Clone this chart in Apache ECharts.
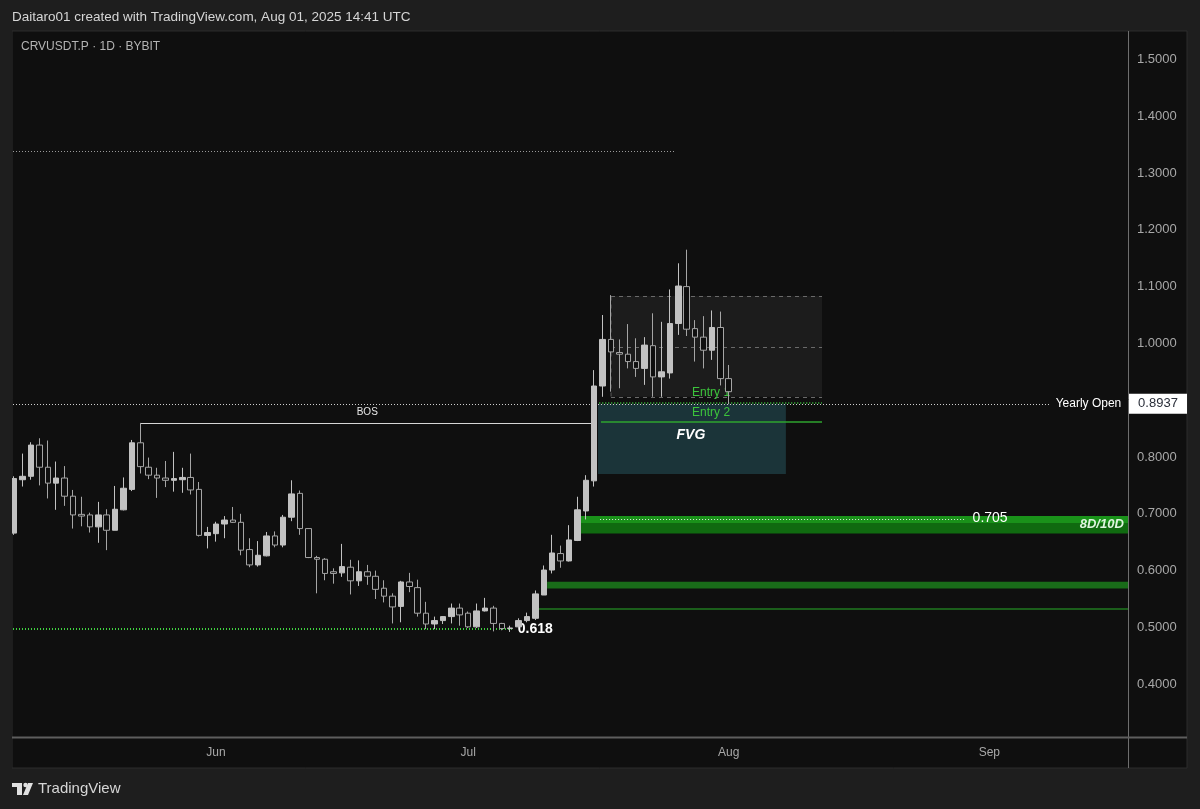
<!DOCTYPE html>
<html><head><meta charset="utf-8">
<script src="https://cdn.jsdelivr.net/npm/echarts@6/dist/echarts.min.js"></script>
<style>html,body{margin:0;padding:0;background:#1e1e1e;}#c{width:1200px;height:809px;}</style>
</head><body><div id="c"></div>
<script>
// ---------- DATA ----------
const firstDay = '2025-05-08';
const dayCount = 133; // May 8 .. Sep 17 (future days empty)
const opens  = [0.666,0.760,0.766,0.821,0.782,0.754,0.763,0.731,0.699,0.698,0.677,0.698,0.671,0.707,0.743,0.825,0.782,0.768,0.763,0.759,0.760,0.764,0.743,0.662,0.665,0.682,0.689,0.685,0.637,0.610,0.626,0.661,0.645,0.694,0.736,0.674,0.623,0.620,0.598,0.596,0.606,0.582,0.598,0.590,0.569,0.555,0.537,0.580,0.570,0.525,0.506,0.512,0.519,0.534,0.525,0.501,0.529,0.534,0.507,0.498,0.501,0.512,0.516,0.557,0.601,0.630,0.617,0.653,0.705,0.758,0.925,1.007,0.984,0.981,0.968,0.956,0.996,0.941,0.948,1.035,1.100,1.026,1.011,0.988,1.028,0.938];
const closes = [0.762,0.766,0.821,0.782,0.754,0.763,0.731,0.698,0.696,0.677,0.698,0.671,0.708,0.745,0.825,0.783,0.768,0.763,0.759,0.762,0.764,0.742,0.662,0.667,0.682,0.689,0.685,0.636,0.610,0.627,0.661,0.645,0.694,0.735,0.674,0.623,0.620,0.595,0.595,0.607,0.582,0.598,0.590,0.567,0.555,0.536,0.580,0.572,0.525,0.506,0.512,0.519,0.534,0.522,0.501,0.529,0.534,0.507,0.498,0.499,0.512,0.519,0.559,0.601,0.631,0.617,0.654,0.707,0.759,0.925,1.007,0.985,0.981,0.968,0.956,0.997,0.941,0.950,1.035,1.101,1.025,1.011,0.988,1.028,0.938,0.915];
const lows   = [0.663,0.748,0.760,0.750,0.727,0.707,0.714,0.674,0.678,0.667,0.649,0.636,0.671,0.706,0.740,0.771,0.761,0.728,0.747,0.739,0.737,0.734,0.660,0.639,0.651,0.657,0.684,0.627,0.606,0.607,0.625,0.641,0.641,0.687,0.663,0.622,0.560,0.583,0.577,0.589,0.558,0.573,0.575,0.550,0.544,0.507,0.509,0.562,0.519,0.497,0.497,0.506,0.507,0.503,0.499,0.499,0.528,0.493,0.495,0.492,0.499,0.509,0.513,0.557,0.595,0.605,0.616,0.652,0.690,0.748,0.906,0.915,0.921,0.956,0.941,0.927,0.906,0.906,0.938,1.015,1.013,0.968,0.956,0.971,0.926,0.893];
const highs  = [0.766,0.806,0.826,0.833,0.829,0.792,0.784,0.742,0.730,0.702,0.721,0.708,0.749,0.764,0.830,0.860,0.799,0.781,0.793,0.809,0.781,0.806,0.756,0.677,0.686,0.696,0.712,0.700,0.657,0.652,0.668,0.669,0.698,0.759,0.741,0.674,0.626,0.622,0.604,0.647,0.619,0.618,0.610,0.600,0.583,0.560,0.582,0.596,0.584,0.545,0.519,0.520,0.542,0.542,0.528,0.542,0.552,0.538,0.508,0.503,0.516,0.526,0.565,0.609,0.663,0.644,0.680,0.730,0.768,0.953,1.050,1.085,1.007,1.034,1.009,1.011,1.053,1.038,1.095,1.141,1.165,1.041,1.048,1.058,1.056,0.962];
const monthNames = ['Jan','Feb','Mar','Apr','May','Jun','Jul','Aug','Sep','Oct','Nov','Dec'];
const priceTicks = [0.4,0.5,0.6,0.7,0.8,0.9,1.0,1.1,1.2,1.3,1.4,1.5];

// levels and zones (x in day index, fractional allowed; y in price)
const yearlyOpen = 0.8937;
const upperDotted = {from:-0.5, to:78.7, price:1.3385};
const bosLine = {from:15, to:68.7, price:0.8597, labelAt:42};
const rangeBox = {from:71, to:96.1, top:1.0833, mid:0.994, bottom:0.906};
const entry1 = {from:69.6, to:96.1, price:0.8955, labelAt:82.9, labelPrice:0.913};
const entry2 = {from:69.8, to:96.1, price:0.861, labelAt:82.9, labelPrice:0.878};
const fvgZone = {from:69.45, to:91.8, top:0.8937, bottom:0.770, labelAt:80.5, labelPrice:0.838};
const fibZone = {from:67.3, top:0.696, mid:0.6836, bottom:0.6655, dotFrom:69.7, dotTo:113.1, dotPrice:0.6907, labelAt:116.1, labelPrice:0.692, label:'0.705'};
const lowerZone = {from:63.4, top:0.5803, bottom:0.5687};
const thinLevel = {from:62.3, price:0.532};
const fib618 = {from:-0.5, to:59.2, price:0.4965, labelAt:59.9, label:'0.618'};

// ---------- BUILD ----------
const dates = [];
{
  const d0 = new Date(firstDay + 'T00:00:00Z');
  for (let i = 0; i < dayCount; i++) {
    const d = new Date(d0.getTime() + i * 86400000);
    dates.push(d.toISOString().slice(0, 10));
  }
}
const candles = opens.map((o, i) => [o, closes[i], lows[i], highs[i]]);
const xMax = dayCount - 0.5;

const shapes = [];
function hline(from, to, price, stroke, width, dash) { shapes.push({k:'line', x1:from, x2:to, y1:price, y2:price, stroke, width, dash}); }
function vline(x, p1, p2, stroke, width, dash) { shapes.push({k:'line', x1:x, x2:x, y1:p1, y2:p2, stroke, width, dash}); }
function rect(x1, x2, top, bottom, fill) { shapes.push({k:'rect', x1, x2, y1:top, y2:bottom, fill}); }
function text(x, price, str, style) { shapes.push({k:'text', x1:x, y1:price, str, style}); }

// zones
rect(fvgZone.from, fvgZone.to, fvgZone.top, fvgZone.bottom, 'rgba(38,84,92,0.55)');
rect(rangeBox.from, rangeBox.to, rangeBox.top, rangeBox.bottom, 'rgba(255,255,255,0.055)');
rect(fibZone.from, xMax, fibZone.top, fibZone.bottom, '#106a10');
rect(fibZone.from, xMax, fibZone.top, fibZone.mid, '#1a921a');
rect(lowerZone.from, xMax, lowerZone.top, lowerZone.bottom, '#196c19');
hline(thinLevel.from, xMax, thinLevel.price, '#1b5e1b', 2, null);
// range box dashes
const dash = [4, 4];
hline(rangeBox.from, rangeBox.to, rangeBox.top, '#6a6a6a', 1, dash);
hline(rangeBox.from, rangeBox.to, rangeBox.mid, '#6a6a6a', 1, dash);
hline(rangeBox.from, rangeBox.to, rangeBox.bottom, '#6a6a6a', 1, dash);
vline(rangeBox.from, rangeBox.top, rangeBox.bottom, '#5a5a5a', 1, dash);
// levels
hline(upperDotted.from, upperDotted.to, upperDotted.price, '#9a9a9a', 1, [1, 2]);
hline(-0.5, 123.2, yearlyOpen, '#d0d0d0', 1, [1, 2]);
hline(entry1.from, entry1.to, entry1.price, '#3fd23f', 1.5, [1, 2]);
hline(entry2.from, entry2.to, entry2.price, '#2fa52f', 1.5, null);
hline(bosLine.from, bosLine.to, bosLine.price, '#d6d6d6', 1, null);
hline(fibZone.dotFrom, fibZone.dotTo, fibZone.dotPrice, '#e8e8e8', 1, [1, 2]);
hline(fib618.from, fib618.to, fib618.price, '#3fd23f', 2, [1, 2]);
// texts
const baseFont = '"Liberation Sans", Arial, sans-serif';
text(bosLine.labelAt, 0.879, 'BOS', {fill:'#e6e6e6', font:'10px ' + baseFont, align:'center', verticalAlign:'middle'});
text(entry1.labelAt, entry1.labelPrice, 'Entry 1', {fill:'#3cc43c', font:'12px ' + baseFont, align:'center', verticalAlign:'middle'});
text(entry2.labelAt, entry2.labelPrice, 'Entry 2', {fill:'#3cc43c', font:'12px ' + baseFont, align:'center', verticalAlign:'middle'});
text(fvgZone.labelAt, fvgZone.labelPrice, 'FVG', {fill:'#ffffff', font:'italic bold 14px ' + baseFont, align:'center', verticalAlign:'middle'});
text(fibZone.labelAt, fibZone.labelPrice, fibZone.label, {fill:'#ffffff', font:'14px ' + baseFont, align:'center', verticalAlign:'middle'});
text(132.0, 0.681, '8D/10D', {fill:'#dff5df', font:'italic bold 13px ' + baseFont, align:'right', verticalAlign:'middle'});
text(fib618.labelAt, fib618.price, fib618.label, {fill:'#ffffff', font:'bold 14px ' + baseFont, align:'left', verticalAlign:'middle'});
text(131.7, yearlyOpen, 'Yearly Open', {fill:'#ffffff', font:'12px ' + baseFont, align:'right', verticalAlign:'middle'});
shapes.push({k:'pricebox', x1:xMax, y1:yearlyOpen, str:yearlyOpen.toFixed(4)});

function renderShape(params, api) {
  const s = shapes[params.dataIndex];
  if (s.k === 'rect') {
    const a = api.coord([s.x1, s.y1]), b = api.coord([s.x2, s.y2]);
    return {type:'rect', shape:{x:a[0], y:a[1], width:b[0]-a[0], height:b[1]-a[1]}, style:{fill:s.fill}};
  }
  if (s.k === 'line') {
    const a = api.coord([s.x1, s.y1]), b = api.coord([s.x2, s.y2]);
    const off = (s.width % 2 === 1) ? 0.5 : 0;
    return {type:'line', shape:{x1:a[0], y1:Math.round(a[1]) + off, x2:b[0], y2:Math.round(b[1]) + off}, style:{stroke:s.stroke, lineWidth:s.width, lineDash:s.dash || null}};
  }
  if (s.k === 'text') {
    const a = api.coord([s.x1, s.y1]);
    return {type:'text', x:a[0], y:a[1], style:Object.assign({text:s.str}, s.style)};
  }
  if (s.k === 'pricebox') {
    const a = api.coord([s.x1, s.y1]);
    return {type:'group', children:[
      {type:'rect', shape:{x:a[0] + 1, y:a[1] - 10, width:58, height:20}, style:{fill:'#ffffff'}},
      {type:'text', x:a[0] + 30, y:a[1], style:{text:s.str, fill:'#2a2e39', font:'13px ' + baseFont, align:'center', verticalAlign:'middle'}}
    ]};
  }
  return null;
}

const chart = echarts.init(document.getElementById('c'), null, {renderer:'canvas'});
chart.setOption({
  backgroundColor:'#1e1e1e',
  animation:false,
  graphic:[
    {type:'rect', z:-10, shape:{x:12, y:31, width:1175, height:737}, style:{fill:'#0f0f0f', stroke:'#2c2c2c', lineWidth:1}},
    {type:'line', z:50, shape:{x1:1128.5, y1:31, x2:1128.5, y2:768}, style:{stroke:'#6e6e6e', lineWidth:1}},
    {type:'line', z:50, shape:{x1:12, y1:737.5, x2:1187, y2:737.5}, style:{stroke:'#5e5e5e', lineWidth:2}},
    {type:'rect', z:60, shape:{x:0, y:31, width:12, height:740}, style:{fill:'#1e1e1e'}},
    {type:'text', z:60, x:12, y:17, style:{text:'Daitaro01 created with TradingView.com, Aug 01, 2025 14:41 UTC', fill:'#d6d6d6', font:'13.5px "Liberation Sans", Arial, sans-serif', verticalAlign:'middle'}},
    {type:'text', z:60, x:21, y:47, style:{text:'CRVUSDT.P · 1D · BYBIT', fill:'#b4b4b4', font:'12px "Liberation Sans", Arial, sans-serif', verticalAlign:'middle'}},
    {type:'group', z:60, children:[
      {type:'rect', shape:{x:12, y:783, width:10, height:4}, style:{fill:'#e0e0e0'}},
      {type:'rect', shape:{x:17, y:783, width:5, height:12}, style:{fill:'#e0e0e0'}},
      {type:'circle', shape:{cx:25.5, cy:785, r:2.2}, style:{fill:'#e0e0e0'}},
      {type:'polygon', shape:{points:[[28,783],[33,783],[28,795],[23,795]]}, style:{fill:'#e0e0e0'}}
    ]},
    {type:'text', z:60, x:38, y:789, style:{text:'TradingView', fill:'#d6d6d6', font:'15px "Liberation Sans", Arial, sans-serif', verticalAlign:'middle'}}
  ],
  grid:{left:10, right:72, top:31, bottom:68, containLabel:false},
  xAxis:[
    {type:'category', data:dates, boundaryGap:true,
     axisLine:{show:false}, axisTick:{show:false}, splitLine:{show:false},
     axisLabel:{color:'#a8a8a8', fontSize:12, fontFamily:'"Liberation Sans", Arial, sans-serif', margin:6,
       interval:(i, v) => v.slice(8) === '01',
       formatter:(v) => monthNames[parseInt(v.slice(5, 7), 10) - 1]}},
    {type:'value', min:-0.5, max:xMax, show:false}
  ],
  yAxis:[{type:'value', position:'right', min:0.3, max:1.55, interval:0.1, scale:true,
    axisLine:{show:false}, axisTick:{show:false}, splitLine:{show:false},
    axisLabel:{color:'#a8a8a8', fontSize:13, fontFamily:'"Liberation Sans", Arial, sans-serif', margin:9,
      formatter:(v) => priceTicks.some(t => Math.abs(t - v) < 1e-6) ? v.toFixed(4) : ''}}],
  series:[
    {type:'custom', name:'zones', xAxisIndex:1, yAxisIndex:0, z:1,
     data:shapes.map((s) => [s.x1, s.y1]), renderItem:renderShape, silent:true,
     encode:{x:0, y:1}},
    {type:'candlestick', xAxisIndex:0, yAxisIndex:0, z:3, data:candles, barWidth:6,
     itemStyle:{color:'#c2c2c2', color0:'#0f0f0f', borderColor:'#c2c2c2', borderColor0:'#a5a5a5', borderWidth:1}}
  ]
});
</script></body></html>
